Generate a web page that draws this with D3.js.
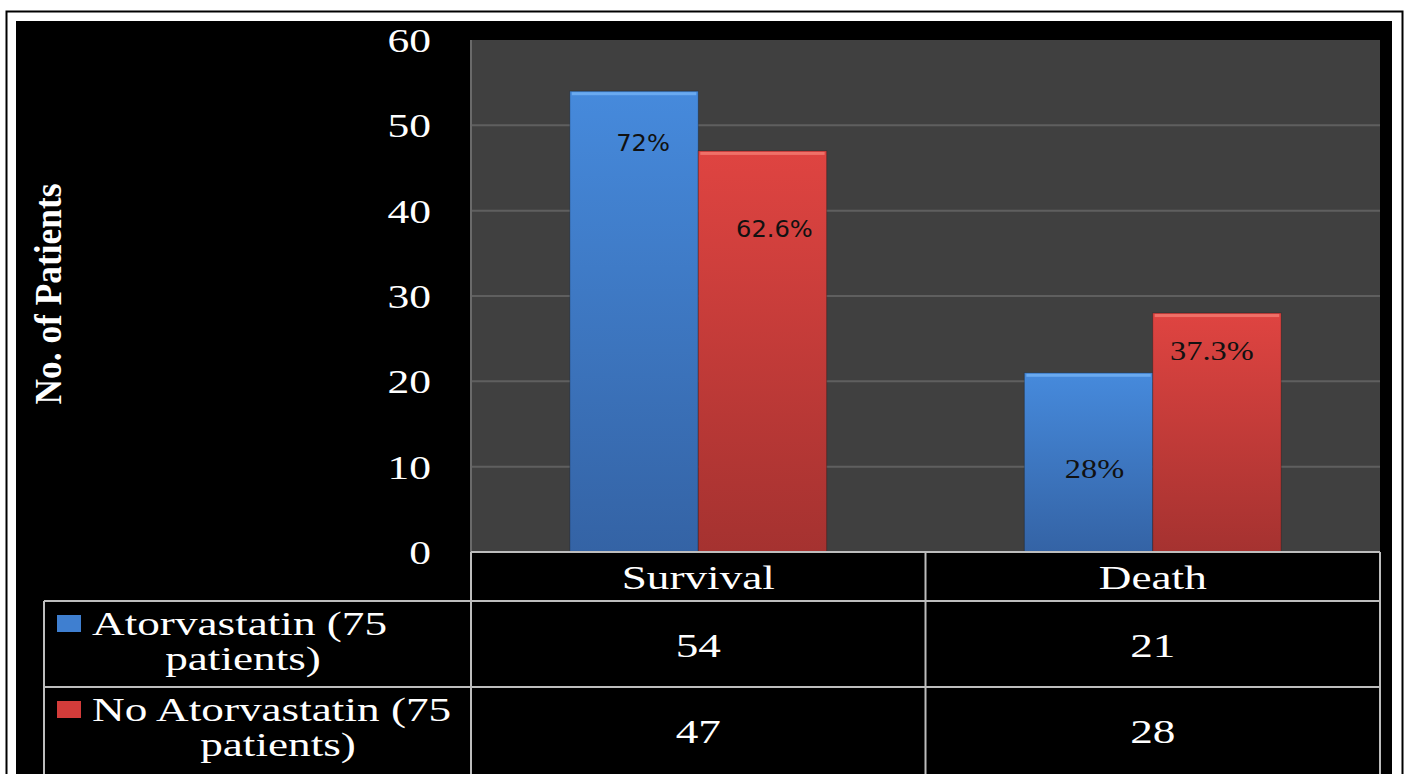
<!DOCTYPE html>
<meta charset="utf-8">
<script src="https://d3js.org/d3.v7.min.js"></script>
<style>
  body { margin: 0; background: #fff; }
</style>
<div id="my_dataviz"></div>
<script>

// data
var categories = ["Survival", "Death"];
var seriesNames = ["Atorvastatin (75 patients)", "No Atorvastatin (75 patients)"];
var atorvastatin = [54, 21];
var noAtorvastatin = [47, 28];
var pctAtorvastatin = ["72%", "28%"];
var pctNoAtorvastatin = ["62.6%", "37.3%"];
var yTicks = [0, 10, 20, 30, 40, 50, 60];

// where the percent labels sit inside the bars (in data units)
var labelAtAtorva = [47.7, 9.4];
var labelAtNoAtorva = [37.6, 23.2];

var W = 1408, H = 774;
var plot = {left: 471, right: 1380, top: 40, bottom: 552};
var serif = "'Liberation Serif', 'Times New Roman', serif";
var sans = "'DejaVu Sans', Verdana, sans-serif";

var svg = d3.select("#my_dataviz")
  .append("svg")
    .attr("width", W)
    .attr("height", H)
    .style("display", "block");

// text that is wider than the font (the source picture is stretched)
function wideText(tx, ty, str, size, sx, anchor, extra) {
  var t = svg.append("text")
    .attr("transform", "translate(" + tx + "," + ty + ") scale(" + sx + ",1)")
    .attr("text-anchor", anchor || "start")
    .attr("fill", "#fff")
    .style("font-family", serif)
    .style("font-size", size + "px")
    .text(str);
  return t;
}

var defs = svg.append("defs");
function grad(id, top, bottom) {
  var g = defs.append("linearGradient").attr("id", id)
    .attr("x1", 0).attr("y1", 0).attr("x2", 0).attr("y2", 1);
  g.append("stop").attr("offset", "0%").attr("stop-color", top);
  g.append("stop").attr("offset", "100%").attr("stop-color", bottom);
}
grad("gBlue", "#468adc", "#3463a5");
grad("gRed", "#df4441", "#a53230");

// outer frame + black panel
svg.append("rect")
  .attr("x", 6.5).attr("y", 11.5).attr("width", 1396).attr("height", H)
  .attr("fill", "#fff").attr("stroke", "#000").attr("stroke-width", 2);
svg.append("rect")
  .attr("x", 16).attr("y", 21).attr("width", 1376).attr("height", H)
  .attr("fill", "#000");

// plot background
svg.append("rect")
  .attr("x", plot.left).attr("y", plot.top)
  .attr("width", plot.right - plot.left).attr("height", plot.bottom - plot.top)
  .attr("fill", "#404040");

var x = d3.scaleBand()
  .domain(categories)
  .range([plot.left, plot.right]);

var xSub = d3.scaleBand()
  .domain([0, 1])
  .range([0, x.bandwidth()])
  .paddingOuter(0.77);

var y = d3.scaleLinear()
  .domain([0, 60])
  .range([plot.bottom, plot.top]);

// gridlines
svg.append("g")
  .selectAll("line")
  .data(yTicks.filter(function (d) { return d > 0 && d < 60; }))
  .enter()
  .append("line")
    .attr("x1", plot.left).attr("x2", plot.right)
    .attr("y1", function (d) { return y(d); })
    .attr("y2", function (d) { return y(d); })
    .attr("stroke", "#5f5f5f")
    .attr("stroke-width", 2);

// left axis line
svg.append("line")
  .attr("x1", plot.left).attr("x2", plot.left)
  .attr("y1", plot.top).attr("y2", plot.bottom)
  .attr("stroke", "#6a6a6a").attr("stroke-width", 2);

// Y axis labels
var yAxis = svg.append("g")
  .attr("transform", "translate(431,0)")
  .call(d3.axisLeft(y).tickValues(yTicks).tickSize(0).tickPadding(0));
yAxis.select(".domain").remove();
yAxis.selectAll("text")
  .attr("fill", "#fff")
  .attr("dy", "0.34em")
  .attr("transform", "scale(1.28,1)")
  .style("font-family", serif)
  .style("font-size", "34px");

svg.append("text")
  .attr("transform", "translate(61,294) rotate(-90) scale(0.93,1)")
  .attr("text-anchor", "middle")
  .attr("fill", "#fff")
  .style("font-family", serif)
  .style("font-weight", "bold")
  .style("font-size", "38px")
  .text("No. of Patients");

// bars
var series = [
  {values: atorvastatin, pct: pctAtorvastatin, at: labelAtAtorva, dx: [9, 6], fill: "url(#gBlue)", top: "#6aaaf0"},
  {values: noAtorvastatin, pct: pctNoAtorvastatin, at: labelAtNoAtorva, dx: [12, -5], fill: "url(#gRed)", top: "#f07068"}
];

series.forEach(function (s, si) {
  var g = svg.append("g");
  g.selectAll("rect.bar")
    .data(s.values)
    .enter()
    .append("rect")
      .attr("class", "bar")
      .attr("x", function (d, i) { return x(categories[i]) + xSub(si); })
      .attr("y", function (d) { return y(d); })
      .attr("width", xSub.bandwidth())
      .attr("height", function (d) { return y(0) - y(d); })
      .attr("fill", s.fill)
      .attr("stroke", "rgba(0,0,0,0.25)")
      .attr("stroke-width", 1);
  // top bevel highlight
  g.selectAll("rect.hl")
    .data(s.values)
    .enter()
    .append("rect")
      .attr("class", "hl")
      .attr("x", function (d, i) { return x(categories[i]) + xSub(si) + 2; })
      .attr("y", function (d) { return y(d) + 1; })
      .attr("width", xSub.bandwidth() - 4)
      .attr("height", 3)
      .attr("fill", s.top);
  // percent labels: first category in a sans face, second in serif (as in the source)
  g.selectAll("text")
    .data(s.values)
    .enter()
    .append("text")
      .attr("transform", function (d, i) {
        var cx = x(categories[i]) + xSub(si) + xSub.bandwidth() / 2 + s.dx[i];
        return "translate(" + cx + "," + y(s.at[i]) + ") scale(" + (i === 0 ? 1.05 : 1.2) + ",1)";
      })
      .attr("text-anchor", "middle")
      .attr("dominant-baseline", "middle")
      .attr("fill", "#111")
      .style("font-family", function (d, i) { return i === 0 ? sans : serif; })
      .style("font-size", function (d, i) { return i === 0 ? "23px" : "27px"; })
      .text(function (d, i) { return s.pct[i]; });
});

// data table
var table = {left: 44, header: 552, row1: 601, row2: 687, bottom: 774};
var line = function (x1, y1, x2, y2) {
  svg.append("line")
    .attr("x1", x1).attr("y1", y1).attr("x2", x2).attr("y2", y2)
    .attr("stroke", "#bdbdbd").attr("stroke-width", 2);
};
svg.append("rect")
  .attr("x", plot.left).attr("y", table.header)
  .attr("width", plot.right - plot.left).attr("height", table.bottom - table.header)
  .attr("fill", "#000");
line(plot.left, table.header, plot.right, table.header);
line(table.left, table.row1, plot.right, table.row1);
line(table.left, table.row2, plot.right, table.row2);
line(table.left, table.row1, table.left, table.bottom);
line(plot.left, table.header, plot.left, table.bottom);
categories.forEach(function (c) {
  line(x(c) + x.bandwidth(), table.header, x(c) + x.bandwidth(), table.bottom);
});

categories.forEach(function (c) {
  wideText(x(c) + x.bandwidth() / 2, 589, c, 34, 1.33, "middle");
});

var rows = [
  {values: atorvastatin, y: table.row1, color: "#3f7fd0", l1: "Atorvastatin (75", l2: "patients)", l2x: 243},
  {values: noAtorvastatin, y: table.row2, color: "#d33c3a", l1: "No Atorvastatin (75", l2: "patients)", l2x: 278}
];
rows.forEach(function (r) {
  r.values.forEach(function (v, i) {
    wideText(x(categories[i]) + x.bandwidth() / 2, r.y + 56, v, 34, 1.33, "middle");
  });
  svg.append("rect")
    .attr("x", 57).attr("y", r.y + 14).attr("width", 24).attr("height", 17)
    .attr("fill", r.color);
  wideText(92, r.y + 34, r.l1, 34, 1.33, "start");
  wideText(r.l2x, r.y + 69, r.l2, 34, 1.33, "middle");
});

</script>
